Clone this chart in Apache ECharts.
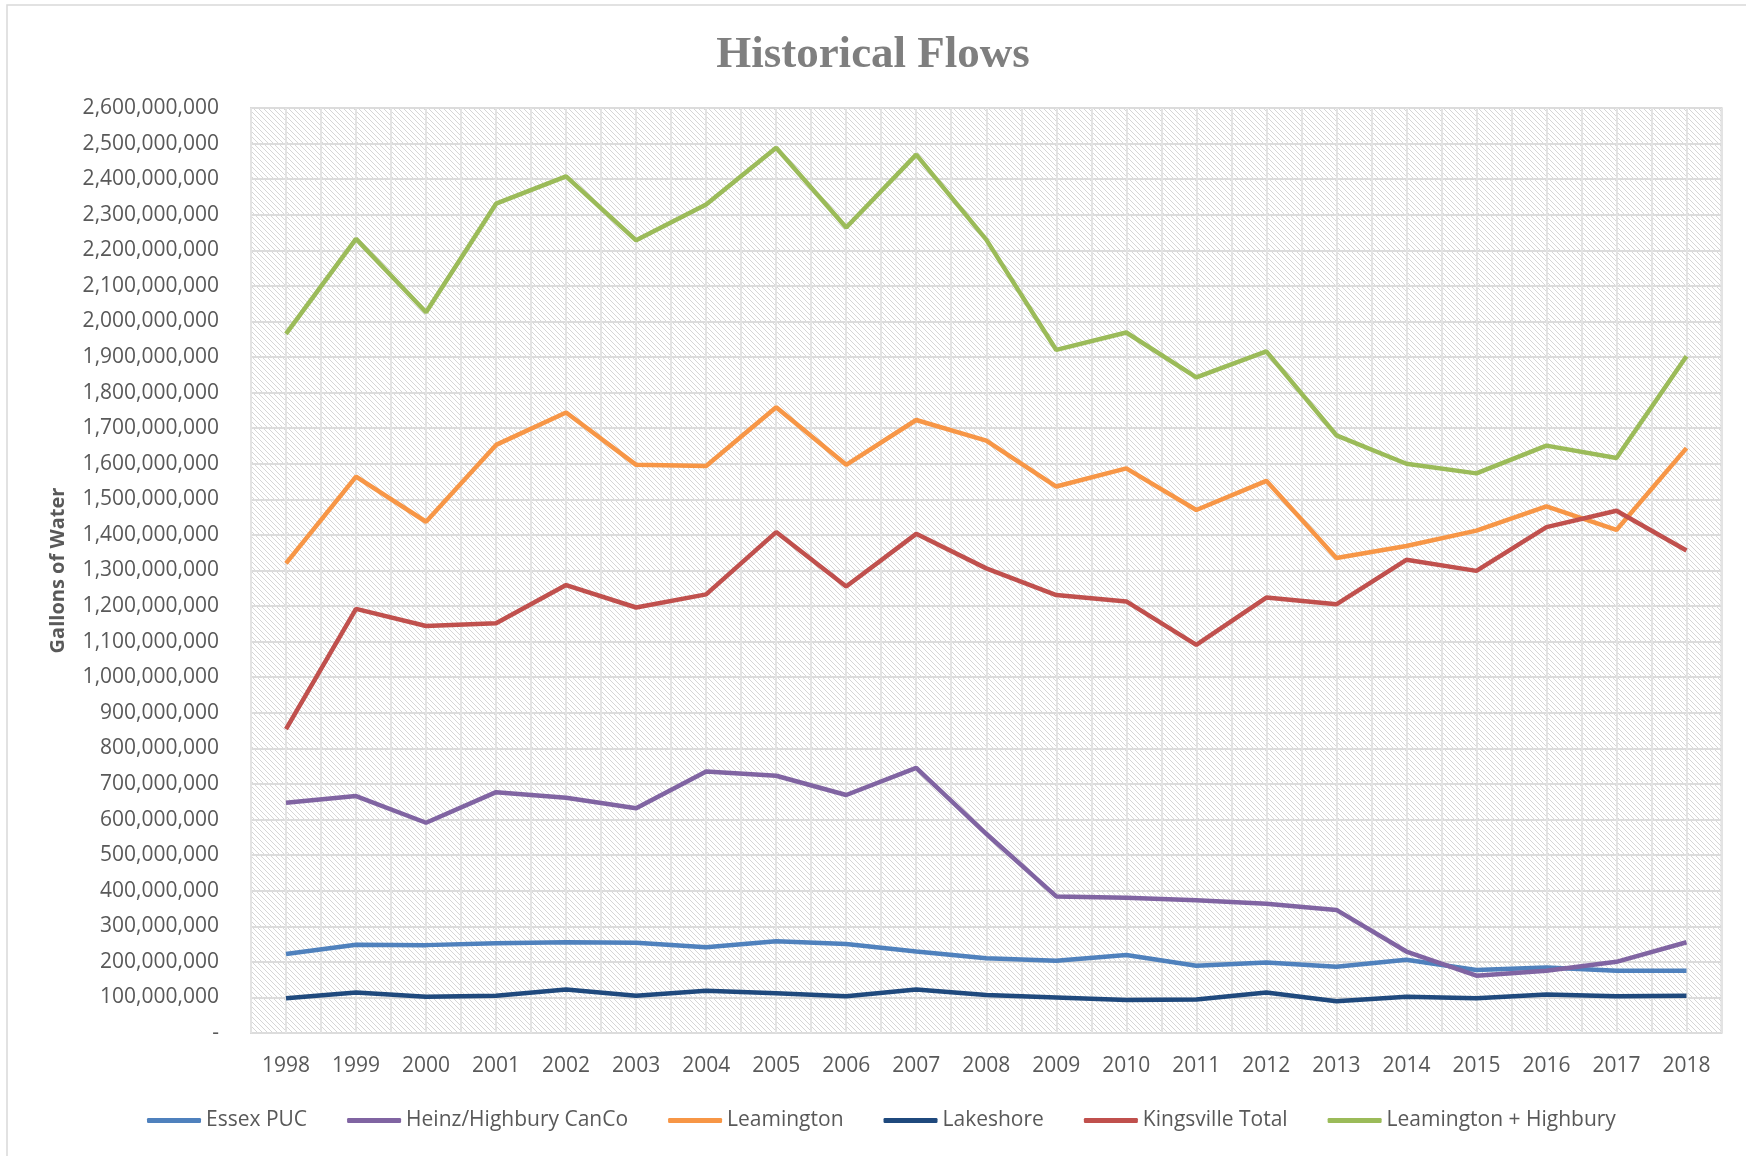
<!DOCTYPE html>
<html>
<head>
<meta charset="utf-8">
<script src="https://cdn.jsdelivr.net/npm/echarts@6/dist/echarts.min.js"></script>
<style>
html,body{margin:0;padding:0;background:#fff;}
#chart{width:1746px;height:1156px;}
</style>
</head>
<body>
<div id="chart"></div>
<script>
const years = ['1998','1999','2000','2001','2002','2003','2004','2005','2006','2007','2008','2009','2010','2011','2012','2013','2014','2015','2016','2017','2018'];
const essexPUC = [222,248,247,252,255,254,241,258,250,229,210,203,219,189,198,186,206,177,184,175,175].map(v=>v*1e6);
const heinzHighbury = [647,666,591,677,661,632,735,723,669,745,560,384,380,373,363,346,229,161,175,200,255].map(v=>v*1e6);
const leamington = [1320,1564,1437,1653,1744,1597,1594,1759,1597,1723,1665,1536,1587,1470,1552,1335,1369,1412,1480,1414,1644].map(v=>v*1e6);
const lakeshore = [98,114,102,105,122,105,119,112,103,122,107,100,93,94,114,89,102,98,108,103,105].map(v=>v*1e6);
const kingsvilleTotal = [854,1192,1144,1152,1259,1196,1233,1408,1255,1403,1306,1231,1213,1091,1224,1205,1330,1299,1422,1468,1356].map(v=>v*1e6);
const leamingtonHighbury = [1965,2232,2026,2331,2408,2228,2329,2488,2264,2469,2230,1920,1969,1843,1916,1680,1600,1573,1651,1616,1902].map(v=>v*1e6);

const seriesNames = ['Essex PUC','Heinz/Highbury CanCo','Leamington','Lakeshore','Kingsville Total','Leamington + Highbury'];
const seriesData = [essexPUC, heinzHighbury, leamington, lakeshore, kingsvilleTotal, leamingtonHighbury];
const seriesColors = ['#4f81bd','#8064a2','#f79646','#1f497d','#c0504d','#9bbb59'];

// hatch pattern
const pc = document.createElement('canvas');
pc.width = 5; pc.height = 5;
const px = pc.getContext('2d');
px.fillStyle = '#ffffff';
px.fillRect(0,0,5,5);
px.strokeStyle = '#d6d6d6';
px.lineWidth = 1;
px.beginPath();
px.moveTo(-1,-1); px.lineTo(6,6);
px.moveTo(-1,4); px.lineTo(1,6);
px.moveTo(4,-1); px.lineTo(6,1);
px.stroke();

const chart = echarts.init(document.getElementById('chart'), null, {renderer:'canvas'});
const fmt = v => v === 0 ? '-' : v.toLocaleString('en-US');

chart.setOption({
  animation:false,
  backgroundColor:'#ffffff',
  title:{
    text:'Historical Flows',
    left:'center',
    top:28,
    textStyle:{fontFamily:'Liberation Serif',fontWeight:'bold',fontSize:45,color:'#7f7f7f'}
  },
  graphic:[{type:'rect',shape:{x:7,y:5,width:1800,height:1200},style:{fill:'none',stroke:'#d9d9d9',lineWidth:1.5},silent:true}],
  grid:{left:251,right:24.5,top:108,bottom:123,show:true,backgroundColor:{image:pc,repeat:'repeat'},borderColor:'#d9d9d9',borderWidth:2},
  legend:{
    data:seriesNames,
    left:142,
    top:1105,
    icon:'roundRect',
    itemWidth:54,
    itemHeight:5,
    itemGap:40,
    textStyle:{fontFamily:'Open Sans',fontSize:21,color:'#595959'}
  },
  xAxis:[{
    type:'category',
    data:years,
    boundaryGap:true,
    axisLine:{show:false},
    axisTick:{show:false},
    splitLine:{show:false},
    axisLabel:{fontFamily:'Open Sans',fontSize:21,color:'#595959',margin:23}
  },{
    type:'value',
    min:-0.5,max:20.5,interval:0.5,
    show:true,
    axisLine:{show:false},axisTick:{show:false},axisLabel:{show:false},
    splitLine:{show:true,lineStyle:{color:'#e3e3e3',width:2}}
  }],
  yAxis:{
    type:'value',
    min:0,max:2600000000,interval:100000000,
    name:'Gallons of Water',
    nameLocation:'middle',
    nameRotate:90,
    nameGap:183,
    nameTextStyle:{fontFamily:'Open Sans',fontWeight:'bold',fontSize:20,color:'#595959'},
    axisLine:{show:false},
    axisTick:{show:false},
    axisLabel:{fontFamily:'Open Sans',fontSize:21,color:'#595959',margin:32,formatter:fmt},
    splitLine:{show:true,lineStyle:{color:'#dcdcdc',width:2}}
  },
  series: seriesNames.map((n,i)=>({
    name:n,
    type:'line',
    xAxisIndex:0,
    data:seriesData[i],
    symbol:'none',
    lineStyle:{color:seriesColors[i],width:4.5},
    itemStyle:{color:seriesColors[i]},
    z:3+i
  }))
});
</script>
</body>
</html>
